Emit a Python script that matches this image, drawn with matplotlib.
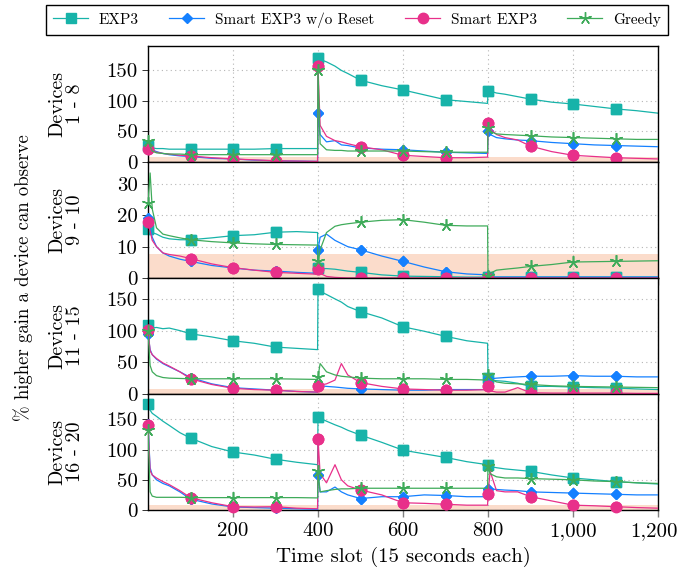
import matplotlib
matplotlib.use("Agg")
import matplotlib.pyplot as plt
from matplotlib.ticker import FuncFormatter
from matplotlib.transforms import ScaledTranslation

plt.rcParams["font.family"] = ["cmr10", "DejaVu Serif"]
plt.rcParams["mathtext.fontset"] = "cm"
plt.rcParams["axes.unicode_minus"] = False

slots = [0, 5, 10, 20, 35, 50, 75, 100, 150, 200, 250, 300, 350, 399,
         400, 405, 420, 440, 455, 470, 500, 550, 600, 650, 700, 750, 799,
         800, 805, 820, 840, 870, 900, 950, 1000, 1050, 1100, 1150, 1200]

panel_labels = ["Devices\n1 - 8", "Devices\n9 - 10", "Devices\n11 - 15", "Devices\n16 - 20"]
series_names = ["EXP3", "Smart EXP3 w/o Reset", "Smart EXP3", "Greedy"]

# Devices 1 - 8
exp3_1 = [26, 24, 23, 22, 22, 21, 21, 21, 21, 21, 21, 22, 22, 22,
          170, 168, 164, 157, 150, 145, 134, 125, 118, 110, 102, 99, 96,
          117, 116, 113, 111, 107, 103, 98, 95, 91, 87, 84, 80]
noreset_1 = [25, 22, 20, 17, 14, 12, 10, 9, 6, 5, 3, 2, 1.5, 1,
             80, 45, 33, 35, 28, 27, 23, 21, 20, 18, 16, 15, 14,
             50, 45, 40, 38, 36, 35, 32, 30, 28, 27, 26, 25]
smart_1 = [22, 20, 18, 16, 14, 13, 11, 10, 7, 5, 3.5, 2, 1.5, 1,
           157, 60, 42, 35, 33, 30, 25, 20, 11, 9, 7, 7, 8,
           64, 55, 45, 40, 36, 26, 17, 11, 9, 7, 6, 5]
greedy_1 = [35, 25, 18, 15, 14, 13, 13, 12, 12, 12, 12, 12, 12, 12,
            150, 30, 20, 19, 19, 18, 18, 18, 18, 17, 16, 16, 16,
            55, 50, 46, 45, 44, 43, 41, 40, 39, 38, 37, 37]

# Devices 9 - 10
exp3_2 = [15.6, 15, 14.5, 14, 13, 12.5, 12.2, 12.2, 12.8, 13.5, 13.8, 14.6, 14.8, 14.5,
          3.2, 3, 3, 2.8, 2.5, 2.2, 1.8, 1, 0.6, 0.5, 0.4, 0.3, 0.3,
          0.3, 0.3, 0.3, 0.3, 0.3, 0.3, 0.3, 0.3, 0.3, 0.3, 0.3, 0.3]
noreset_2 = [19, 16, 13, 10, 8, 7, 6, 5.3, 4, 3.2, 2.5, 2.2, 1.8, 1.5,
             9, 13, 14, 12, 11, 10, 9, 7, 5.3, 3.5, 2, 1.3, 1,
             0.5, 0.3, 0.3, 0.3, 0.3, 0.3, 0.3, 0.3, 0.3, 0.3, 0.3, 0.3]
smart_2 = [18, 15, 12, 10, 8, 7.5, 7, 6.2, 4.5, 3.3, 2.5, 1.8, 1.5, 1.2,
           2.9, 1.5, 0.5, 0.2, 0.1, 0, 0, 0, 0, 0, 0, 0, 0,
           0, 0, 0, 0, 0, 0, 0, 0, 0, 0, 0, 0]
greedy_2 = [24, 33.5, 22, 16, 14, 13.5, 12.8, 12.2, 11.6, 11.2, 10.9, 10.7, 10.6, 10.5,
            5.3, 9, 14.5, 16.5, 17, 17.3, 17.8, 18.4, 18.6, 17.8, 16.8, 16.6, 16.6,
            0.5, 1.5, 2.5, 2.8, 3.2, 3.7, 4.3, 5.1, 5.2, 5.3, 5.4, 5.5]

# Devices 11 - 15
exp3_3 = [109, 104, 104, 105, 103, 104, 100, 95, 90, 84, 80, 74, 72, 70,
          166, 162, 157, 150, 145, 138, 130, 120, 106, 99, 91, 84, 80,
          25, 22, 21, 20, 17, 12, 12, 11, 10, 9.5, 8, 7]
noreset_3 = [95, 70, 62, 55, 48, 43, 35, 26, 16, 10, 8, 6, 4, 3,
             14, 13, 12, 11, 10, 9, 8, 7, 6, 6, 7, 7, 7,
             23, 24, 25, 26, 27, 28, 28, 29, 28, 28, 27, 27]
smart_3 = [101, 68, 62, 56, 49, 44, 35, 24, 15, 9, 7, 6, 4, 3,
           12, 14, 16, 22, 48, 30, 18, 12, 8, 7, 6, 6, 7,
           13, 5, 3, 3, 10, 2, 1.5, 1.5, 1.5, 1.5, 1, 1]
greedy_3 = [100, 45, 35, 29, 26, 25, 24.5, 24, 24, 24, 24, 24, 23.5, 23,
            27, 48, 35, 30, 28, 27, 25, 24, 24, 24, 23, 23, 22,
            30, 24, 19, 17, 16, 15, 13, 12, 11.5, 11, 10.5, 10]

# Devices 16 - 20
exp3_4 = [175, 165, 160, 155, 147, 140, 128, 119, 105, 96, 91, 84, 79, 75,
          154, 152, 147, 141, 137, 132, 124, 112, 99, 93, 87, 80, 75,
          74, 72, 70, 68, 66, 64, 58, 53, 50, 47, 45, 43]
noreset_4 = [142, 70, 58, 50, 44, 40, 30, 18, 10, 5, 4, 3, 2, 1,
             58, 30, 30, 38, 30, 25, 19, 22, 22, 25, 24, 22, 22,
             34, 35, 34, 33, 32, 30, 29, 28, 27, 26, 25, 25]
smart_4 = [140, 65, 58, 53, 47, 42, 32, 20.5, 12, 5.5, 5, 5.5, 3, 2,
           118, 60, 45, 75, 50, 40, 33, 25, 12, 11, 9.5, 8, 8,
           26, 64, 32, 30, 30, 22, 15, 8, 7, 5.5, 4, 3]
greedy_4 = [133, 30, 23, 21, 21, 21, 21, 20.5, 20.5, 20.5, 20.5, 20.5, 20.5, 20,
            65, 30, 32, 34, 35, 35, 36, 36, 36, 36, 36, 36, 36,
            73, 60, 55, 53, 53, 52, 51, 50, 48, 47, 45, 44]

panels = [
    [exp3_1, noreset_1, smart_1, greedy_1],
    [exp3_2, noreset_2, smart_2, greedy_2],
    [exp3_3, noreset_3, smart_3, greedy_3],
    [exp3_4, noreset_4, smart_4, greedy_4],
]
y_limits = [190, 37, 183, 192]
y_ticks = [[0, 50, 100, 150], [0, 10, 20, 30], [0, 50, 100, 150], [0, 50, 100, 150]]
band_top = 7.5

colors = ["#17b3a9", "#1480ff", "#e8308a", "#3fab5a"]
markers = ["s", "D", "o", (5, 2, 0)]
msizes = [7.5, 5.5, 7.5, 9]

marked = [i for i, s in enumerate(slots) if s % 100 == 0 and s < 1200]

fig = plt.figure(figsize=(6.8, 5.85), dpi=100)
left, width = 148 / 680, 510 / 680
panel_h = 116 / 585
bottom0 = 75 / 585

axes = []
for k in range(4):
    ax = fig.add_axes([left, bottom0 + (3 - k) * panel_h, width, panel_h])
    axes.append(ax)
    ax.axhspan(0, band_top, color="#fbdccb", lw=0, zorder=0)
    for j, vals in enumerate(panels[k]):
        ax.plot(slots, vals, color=colors[j], lw=0.9, marker=markers[j],
                markersize=msizes[j], markevery=marked,
                label=series_names[j], zorder=2 + j)
        # markers drawn again without clipping, like the original
        ax.plot([slots[i] for i in marked], [vals[i] for i in marked],
                ls="none", marker=markers[j], markersize=msizes[j],
                color=colors[j], clip_on=False, zorder=2 + j)
    ax.set_xlim(0, 1200)
    ax.set_ylim(0, y_limits[k])
    ax.set_yticks(y_ticks[k])
    ax.set_xticks([200, 400, 600, 800, 1000, 1200])
    ax.grid(True, color="#b5b5b5", ls=(0, (1, 3)), lw=0.8)
    ax.set_axisbelow(True)
    ax.tick_params(axis="both", labelsize=15, length=4, width=0.7)
    ax.tick_params(axis="x", direction="out", color="gray", length=5, width=1.0)
    ax.tick_params(axis="y", color="#333333")
    ax.set_ylabel(panel_labels[k], fontsize=14.5, linespacing=1.0)
    ax.yaxis.set_label_coords(-0.125, 0.5)
    for sp in ax.spines.values():
        sp.set_linewidth(1.0)
    if k < 3:
        ax.tick_params(axis="x", labelbottom=False)

axes[-1].xaxis.set_major_formatter(FuncFormatter(lambda v, p: f"{int(v):,}"))
axes[-1].set_xlabel("Time slot (15 seconds each)", fontsize=15, labelpad=5)

# keep the last tick label ("1,200") inside the figure edge
fig.canvas.draw()
last = axes[-1].get_xticklabels()[-1]
last.set_transform(last.get_transform() + ScaledTranslation(-4 / 100, 0, fig.dpi_scale_trans))

fig.text(0.034, 1 - 278 / 585, "% higher gain a device can observe",
         rotation=90, ha="center", va="center", fontsize=13.5)

handles, labels = axes[0].get_legend_handles_labels()
fig.legend(handles[:4], labels[:4], loc="center", ncol=4,
           bbox_to_anchor=(357 / 680, 1 - 20 / 585), fontsize=11,
           frameon=True, fancybox=False, edgecolor="black", framealpha=1,
           handlelength=2.3, columnspacing=2.0, handletextpad=0.7,
           borderpad=0.45)

fig.savefig("out.png", dpi=100)
